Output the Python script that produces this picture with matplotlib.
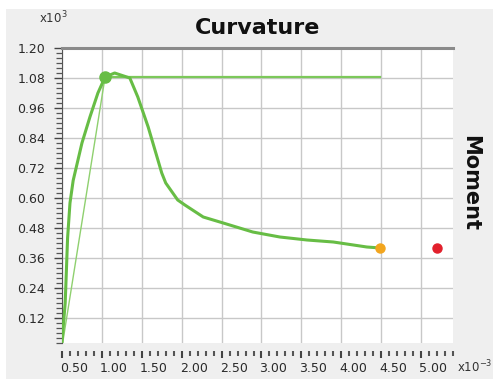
import matplotlib
matplotlib.use('Agg')
import matplotlib.pyplot as plt
import matplotlib.transforms as mtransforms
from matplotlib.patches import Rectangle
from matplotlib.ticker import MultipleLocator

# moment-curvature curve (x10^-3 curvature, x10^3 moment)
curv = [0.50, 0.54, 0.57, 0.60, 0.64, 0.75, 0.85, 0.95, 1.04, 1.16, 1.35, 1.45,
        1.58, 1.75, 1.80, 1.95, 2.04, 2.27, 2.52, 2.89, 3.23, 3.57, 3.90, 4.32, 4.49]
moment = [0.024, 0.18, 0.44, 0.58, 0.67, 0.82, 0.924, 1.02, 1.084, 1.10, 1.08, 1.004,
          0.884, 0.70, 0.66, 0.592, 0.572, 0.524, 0.50, 0.464, 0.444, 0.432, 0.424, 0.404, 0.40]

# secant stiffness line and yield plateau
secant_x = [0.51, 1.04]
secant_y = [0.024, 1.084]
plateau_x = [1.04, 4.49]
plateau_y = [1.084, 1.084]

# marked points
peak = (1.04, 1.084)
ultimate = (4.49, 0.402)
failure = (5.20, 0.402)

xticks = [0.5, 1.0, 1.5, 2.0, 2.5, 3.0, 3.5, 4.0, 4.5, 5.0]
xlabels = ['0.50', '1.00', '1.50', '2.00', '2.50', '3.00', '3.50', '4.00', '4.50', '5.00']
yticks = [0.12, 0.24, 0.36, 0.48, 0.60, 0.72, 0.84, 0.96, 1.08, 1.20]
ylabels = ['%.2f' % v for v in yticks]

fig = plt.figure(figsize=(4.93, 3.79), dpi=100)
fig.patch.set_facecolor('white')
fig.patches.append(Rectangle((6 / 493, 0), 1, 1 - 9 / 379, transform=fig.transFigure,
                             facecolor='#efefef', edgecolor='none', zorder=-10))

ax = fig.add_axes([62 / 493, 1 - 343 / 379, (453 - 62) / 493, (343 - 48) / 379])
ax.set_facecolor('white')
ax.set_xlim(0.5, 5.4)
ax.set_ylim(0.02, 1.20)

ax.spines['top'].set_color('#8a8a8a')
ax.spines['top'].set_linewidth(2.2)
ax.spines['right'].set_visible(False)
ax.spines['left'].set_color('#555555')
ax.spines['left'].set_linewidth(0.8)
ax.spines['bottom'].set_position(('outward', 6))
ax.spines['bottom'].set_visible(False)

green = '#67bd45'
ax.plot(secant_x, secant_y, color='#8fd06f', lw=1.0, zorder=3)
ax.plot(plateau_x, plateau_y, color='#7cc85a', lw=1.6, zorder=3)
ax.plot(curv, moment, color=green, lw=2.2, solid_joinstyle='round', zorder=4)
ax.plot(*peak, 'o', color=green, ms=8, zorder=5)
ax.plot(*ultimate, 'o', color='#f2a51e', ms=6.5, zorder=5)
ax.plot(*failure, 'o', color='#e2202c', ms=6.5, zorder=5)

# ticks and grid
ax.set_xticks(xticks)
ax.set_xticklabels(xlabels)
ax.xaxis.set_minor_locator(MultipleLocator(0.1))
ax.set_yticks(yticks)
ax.set_yticklabels(ylabels)
ax.yaxis.set_minor_locator(MultipleLocator(0.02))
ax.grid(True, which='major', color='#c8c8c8', lw=1.0)
ax.set_axisbelow(True)

ax.tick_params(axis='both', which='major', labelsize=9, labelcolor='#2a2a2a', color='#444444')
ax.tick_params(axis='x', which='major', length=5, width=1.5, pad=3)
ax.tick_params(axis='x', which='minor', length=3.5, width=1.5, color='#555555')
ax.tick_params(axis='y', which='major', length=6, width=1.0, pad=6)
ax.tick_params(axis='y', which='minor', length=4, width=0.9, color='#555555')

# labels in the original sit to the right of their ticks
shift = mtransforms.ScaledTranslation(12 / 100, 0, fig.dpi_scale_trans)
for lab in ax.get_xticklabels():
    lab.set_transform(lab.get_transform() + shift)

fig.text(258 / 493, 1 - 28 / 379, 'Curvature', ha='center', va='center',
         fontsize=16, fontweight='bold', color='#111111')
fig.text(470 / 493, 1 - 183 / 379, 'Moment', ha='center', va='center', rotation=-90,
         fontsize=15, fontweight='bold', color='#111111')
fig.text(53 / 493, 1 - 18 / 379, 'x10$^3$', ha='center', va='center',
         fontsize=8.5, color='#333333')
fig.text(457 / 493, 1 - 367 / 379, 'x10$^{-3}$', ha='left', va='center',
         fontsize=8.5, color='#333333')

fig.savefig('out.png', dpi=100, facecolor=fig.get_facecolor())
